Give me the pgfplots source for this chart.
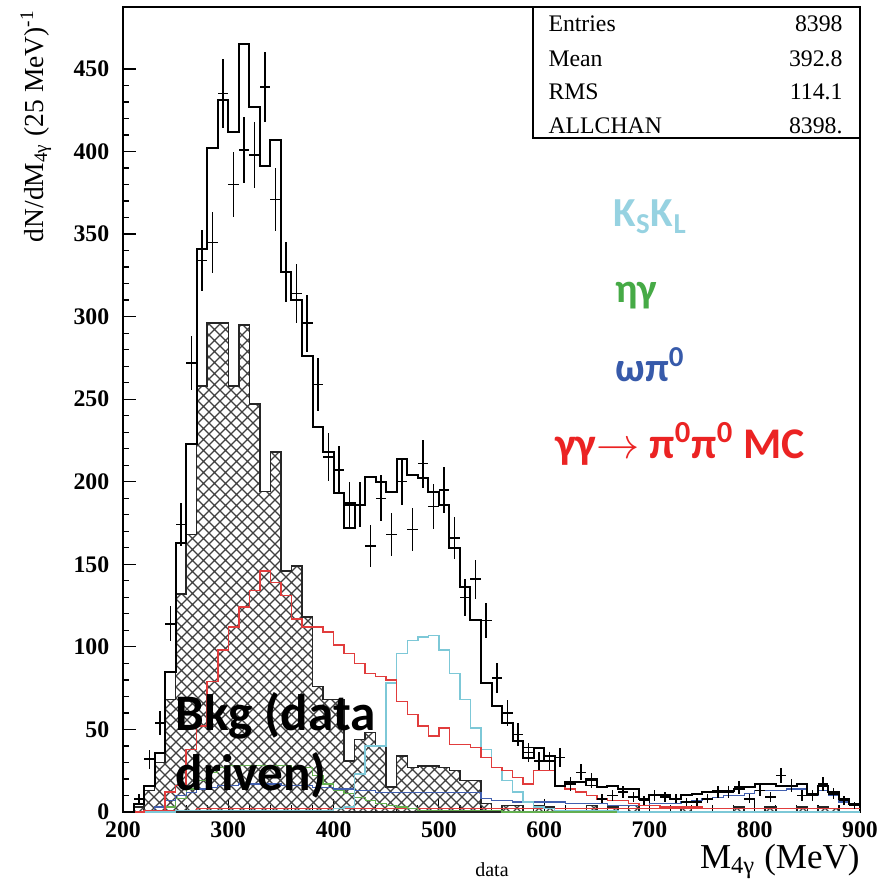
\documentclass[border=0pt]{standalone}
\usepackage{fontspec}
\setmainfont{Liberation Serif}
\newfontfamily\calibri{Carlito}
\usepackage{pgfplots}
\usepackage{pgfplotstable}
\pgfplotsset{compat=1.18}
\usetikzlibrary{patterns.meta}

\definecolor{ksklline}{RGB}{125,200,215}
\definecolor{ksklText}{RGB}{150,210,225}
\definecolor{etaline}{RGB}{100,175,80}
\definecolor{etaText}{RGB}{70,170,70}
\definecolor{omline}{RGB}{65,95,175}
\definecolor{omText}{RGB}{55,90,170}
\definecolor{ggline}{RGB}{225,60,60}
\definecolor{ggText}{RGB}{235,35,35}

% diagonal cross hatch used for the data-driven background
\tikzdeclarepattern{
  name=xhatch,
  type=uncolored,
  bounding box={(-0.3pt,-0.3pt) and (4.7pt,4.7pt)},
  tile size={(4.4pt,4.4pt)},
  code={
    \pgfsetlinewidth{0.45pt}
    \pgfpathmoveto{\pgfqpoint{0pt}{0pt}}
    \pgfpathlineto{\pgfqpoint{4.4pt}{4.4pt}}
    \pgfpathmoveto{\pgfqpoint{0pt}{4.4pt}}
    \pgfpathlineto{\pgfqpoint{4.4pt}{0pt}}
    \pgfusepath{stroke}
  }
}

% histograms: lower bin edge (MeV) and contents per 10 MeV bin
\pgfplotstableread{
edge bkg red cyan green blue total totalb low
200 0 0 0 0 0 0 0 0
210 3 0 0 0 0 5 5 0
220 13 1 0 0 1 16 16 0
230 30 1 0 1 3 36 36 0
240 68 12 0 3 7 85 85 1
250 132 16 1 8 10 163 163 1
260 168 38 1 14 12 223 223 1
270 258 52 1 19 14 341 341 2
280 296 79 1 24 15 402 402 2
290 296 98 1 27 16 431 431 2
300 258 112 1 28 16 412 412 2
310 295 124 1 28 17 465 465 2
320 247 134 1 28 17 427 427 2
330 194 146 1 28 17 391 391 2
340 218 139 1 28 17 407 407 2
350 146 131 1 28 16 327 327 2
360 149 117 1 27 16 310 310 2
370 118 112 1 27 16 276 276 2
380 76 112 1 22 15 233 233 2
390 68 109 1 17 15 218 218 2
400 68 101 2 13 14 193 193 2
410 31 96 3 11 14 172 187 2
420 44 90 23 9 13 186 186 2
430 48 84 40 7 13 203 203 2
440 40 82 40 5 12 200 200 2
450 15 80 78 4 12 194 194 2
460 34 67 96 3 12 214 214 2
470 27 59 104 2 12 204 204 2
480 28 52 106 1 12 202 202 2
490 28 46 107 1 12 194 194 2
500 27 51 98 1 12 186 186 2
510 25 41 84 1 12 160 160 2
520 19 41 68 1 12 136 136 2
530 19 39 51 1 12 116 116 2
540 5 33 38 1 8 78 78 2
550 0 27 27 1 7 64 64 2
560 4 25 19 0 7 54 54 2
570 4 21 12 0 6 43 43 2
580 0 17 6 0 6 33 39 2
590 4 25 3 0 6 39 39 2
600 3 25 2 0 6 31 34 2
610 0 16 1 0 6 16 16 2
620 0 14 1 0 5 18 18 2
630 0 12 1 0 5 18 18 2
640 4 10 1 0 5 20 16 2
650 0 8 1 0 5 15 15 2
660 3 7 1 0 4 16 16 2
670 0 7 0 0 4 14 14 2
680 4 5 0 0 4 14 14 2
690 0 4 0 0 4 8 8 2
700 0 4 0 0 5 10 10 2
710 0 3 0 0 5 10 10 2
720 0 3 0 0 5 8 8 2
730 3 3 0 0 6 10 10 2
740 0 3 0 0 7 11 11 2
750 0 2 0 0 8 12 12 2
760 0 2 0 0 9 13 13 2
770 0 2 0 0 10 13 13 2
780 3 2 0 0 10 14 14 2
790 0 2 0 0 11 15 15 2
800 0 2 0 0 13 17 17 2
810 3 2 0 0 13 17 17 2
820 0 2 0 0 13 16 16 2
830 0 2 0 0 14 16 16 2
840 3 2 0 0 14 17 17 2
850 0 2 0 0 10 11 11 2
860 3 2 0 0 13 16 16 2
870 2 2 0 0 10 12 12 2
880 0 2 0 0 6 8 8 2
890 0 2 0 0 4 5 5 2
900 0 2 0 0 4 5 5 2
}\histtab

% data: bin centre, entries, statistical error
\pgfplotstableread{
x y e
215 8 2.8
225 32 5.7
235 54 7.3
245 114 10.7
255 174 13.2
265 272 16.5
275 334 18.3
285 345 18.6
295 435 20.9
305 380 19.5
315 401 20.0
325 398 19.9
335 439 21.0
345 371 19.3
355 327 18.1
365 314 17.7
375 296 17.2
385 259 16.1
395 215 14.7
405 207 14.4
415 186 13.6
425 186 13.6
435 161 12.7
445 190 13.8
455 168 13.0
465 200 14.1
475 171 13.1
485 211 14.5
495 185 13.6
505 195 14.0
515 166 12.9
525 130 11.4
535 141 11.9
545 116 10.8
555 81 9.0
565 60 7.7
575 47 6.9
585 36 6.0
595 31 5.6
605 31 5.6
615 33 5.7
625 17 4.1
635 24 4.9
645 19 4.4
655 8 2.8
665 10 3.2
675 12 3.5
685 9 3.0
695 7 2.6
705 10 3.2
715 9 3.0
725 8 2.8
735 6 2.4
745 6 2.4
755 8 2.8
765 12 3.5
775 12 3.5
785 15 3.9
795 8 2.8
805 13 3.6
815 9 3.0
825 22 4.7
835 16 4.0
845 10 3.2
855 10 3.2
865 17 4.1
875 11 3.3
885 7 2.6
895 4 2.0
}\datatab

\begin{document}
\begin{tikzpicture}
\useasboundingbox (-49.2pt,-29.2pt) rectangle (303.2pt,324.8pt);
\begin{axis}[
  scale only axis, width=294.8pt, height=322pt,
  xmin=200, xmax=900, ymin=0, ymax=487.5,
  axis line style={line width=0.6pt},
  tick align=inside, tick pos=left,
  xtick={200,300,...,900}, minor x tick num=4,
  ytick={0,50,...,450}, minor y tick num=4,
  major tick length=5.2pt, minor tick length=2.6pt,
  tick style={black, line width=0.5pt},
  ticklabel style={font=\bfseries\fontsize{9.5}{11}\selectfont},
  /pgf/number format/assume math mode=true,
  /pgf/number format/1000 sep={},
  yticklabel style={xshift=-2pt},
  xticklabel style={yshift=-0.5pt},
]
% data-driven background (hatched)
\addplot[const plot, draw=black!85, line width=0.6pt, pattern=xhatch, pattern color=black!75]
  table[x=edge, y=bkg] {\histtab} \closedcycle;
% Monte Carlo components
\addplot[const plot, ggline, line width=0.5pt] table[x=edge, y=low] {\histtab};
\addplot[const plot, etaline, line width=0.5pt] table[x=edge, y=green] {\histtab};
\addplot[const plot, omline, line width=0.5pt] table[x=edge, y=blue] {\histtab};
\addplot[const plot, ksklline, line width=0.6pt] table[x=edge, y=cyan] {\histtab};
\addplot[const plot, ggline, line width=0.6pt] table[x=edge, y=red] {\histtab};
% sum of all contributions
\addplot[const plot, black, line width=0.7pt] table[x=edge, y=totalb] {\histtab};
\addplot[const plot, black, line width=0.8pt] table[x=edge, y=total] {\histtab};
% data points: crosses with bin-width horizontal bars
\addplot[draw=none, mark=none,
  error bars/.cd, x dir=both, x fixed=5, y dir=both, y explicit,
  error mark=none, error bar style={draw=black, line width=0.6pt, solid}]
  table[x=x, y=y, y error=e] {\datatab};
\end{axis}

% statistics box
\draw[line width=0.5pt, fill=white] (164pt,269.6pt) rectangle (294.8pt,322pt);
\begin{scope}[every node/.style={font=\fontsize{9.5}{11}\selectfont, inner sep=0pt}]
\node[anchor=base west] at (170pt,312.1pt) {Entries};
\node[anchor=base east] at (288pt,312.1pt) {8398};
\node[anchor=base west] at (170pt,298.3pt) {Mean};
\node[anchor=base east] at (288pt,298.3pt) {392.8};
\node[anchor=base west] at (170pt,284.8pt) {RMS};
\node[anchor=base east] at (288pt,284.8pt) {114.1};
\node[anchor=base west] at (170pt,271.5pt) {ALLCHAN};
\node[anchor=base east] at (288pt,271.5pt) {8398.};
\end{scope}

% component labels
\begin{scope}[every node/.style={font=\calibri\bfseries\fontsize{16.5}{18}\selectfont, inner sep=0pt, anchor=base west}]
\node[text=ksklText] at (196pt,234pt) {K\textsubscript{S}K\textsubscript{L}};
\node[text=etaText] at (196.8pt,203.6pt) {ηγ};
\node[text=omText] at (196.8pt,172pt) {ωπ\textsuperscript{0}};
\node[text=ggText, font=\calibri\bfseries\fontsize{17.5}{19}\selectfont] at (172.8pt,141.6pt) {γγ$\rightarrow$ π\textsuperscript{0}π\textsuperscript{0} MC};
\node[text=black, font=\calibri\bfseries\fontsize{20.5}{22}\selectfont] at (20.8pt,32.8pt) {Bkg (data};
\node[text=black, font=\calibri\bfseries\fontsize{20.5}{22}\selectfont] at (20.8pt,8.8pt) {driven)};
\end{scope}

% axis titles
\node[anchor=base east, inner sep=0pt, font=\fontsize{14}{16}\selectfont] at (294.8pt,-22.4pt) {M\textsubscript{4γ} (MeV)};
\node[anchor=base, inner sep=0pt, font=\fontsize{8}{9}\selectfont] at (147.6pt,-25.6pt) {data};
\node[rotate=90, anchor=base east, inner sep=0pt, font=\fontsize{11}{12}\selectfont] at (-32pt,321pt) {dN/dM\textsubscript{4γ} (25 MeV)\textsuperscript{-1}};
\end{tikzpicture}
\end{document}
